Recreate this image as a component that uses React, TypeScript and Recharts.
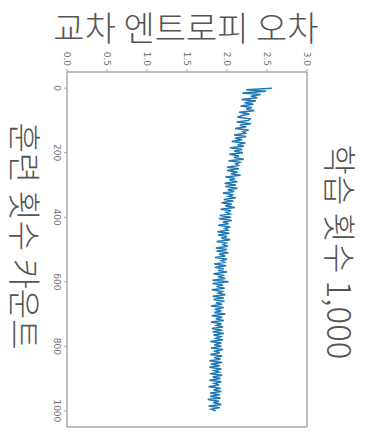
import React from 'react';
import { LineChart, Line, XAxis, YAxis } from 'recharts';

// loss value every 5 iterations, 0..1000
const lossValues: number[] = [
  2.56, 2.24, 2.49, 2.19, 2.42, 2.30, 2.38, 2.18, 2.36, 2.22,
  2.33, 2.17, 2.31, 2.24, 2.34, 2.15, 2.28, 2.19, 2.13, 2.29,
  2.27, 2.12, 2.30, 2.16, 2.24, 2.10, 2.27, 2.20, 2.23, 2.09,
  2.24, 2.10, 2.19, 2.06, 2.23, 2.13, 2.21, 2.04, 2.19, 2.09,
  2.20, 2.03, 2.15, 2.09, 2.21, 2.02, 2.16, 2.11, 2.14, 2.00,
  2.15, 2.00, 2.13, 2.05, 2.17, 1.98, 2.10, 2.03, 2.13, 1.97,
  2.11, 1.98, 2.13, 2.01, 2.09, 1.95, 2.08, 2.02, 2.11, 1.96,
  2.08, 1.93, 2.06, 1.98, 2.10, 1.92, 2.05, 1.99, 2.04, 1.91,
  2.05, 1.90, 2.06, 1.95, 2.02, 1.89, 2.04, 1.97, 2.01, 1.88,
  2.03, 1.89, 2.00, 1.93, 2.04, 1.87, 1.99, 1.95, 2.01, 1.86,
  2.00, 1.87, 2.02, 1.90, 1.98, 1.85, 2.00, 1.93, 1.97, 1.84,
  1.99, 1.85, 1.96, 1.89, 2.00, 1.83, 1.95, 1.90, 1.98, 1.82,
  2.02, 1.82, 1.95, 1.87, 1.97, 1.81, 1.94, 1.89, 1.98, 1.82,
  1.96, 1.83, 1.97, 1.86, 1.94, 1.80, 1.96, 1.85, 1.93, 1.84,
  1.98, 1.81, 1.94, 1.86, 1.96, 1.80, 1.93, 1.87, 1.95, 1.81,
  1.94, 1.82, 1.96, 1.83, 1.92, 1.86, 1.95, 1.79, 1.93, 1.84,
  1.93, 1.80, 1.95, 1.85, 1.91, 1.79, 1.94, 1.84, 1.92, 1.78,
  1.94, 1.80, 1.91, 1.78, 1.93, 1.84, 1.90, 1.79, 1.94, 1.82,
  1.92, 1.78, 1.93, 1.84, 1.90, 1.77, 1.92, 1.83, 1.93, 1.79,
  1.91, 1.79, 1.92, 1.76, 1.90, 1.83, 1.93, 1.77, 1.91, 1.80,
  1.86,
];
const STEP = 5;

const lossTicks = [0, 0.5, 1.0, 1.5, 2.0, 2.5, 3.0];
const iterTicks = [0, 200, 400, 600, 800, 1000];

const TITLE = '교차 엔트로피 오차';
const LEFT_LABEL = '훈련 횟수 카운트';
const RIGHT_LABEL = '학습 횟수 1,000';

const data = lossValues.map((v, i) => ({ iter: i * STEP, loss: v }));

const SPINE = '#a8a8a8';
const TEXT = '#555';
const TICK_TEXT = '#707070';
const KR = '"Noto Sans CJK KR", "Noto Sans", sans-serif';

const TopTick = (props: any) => {
  const { x, payload } = props;
  const y = 66;
  return (
    <text
      x={x}
      y={y}
      transform={`rotate(90 ${x} ${y})`}
      textAnchor="end"
      dominantBaseline="central"
      fontSize={9}
      fontFamily="DejaVu Sans"
      fill={TICK_TEXT}
    >
      {Number(payload.value).toFixed(1)}
    </text>
  );
};

const LeftTick = (props: any) => {
  const { y, payload } = props;
  const x = 57;
  return (
    <text
      x={x}
      y={y}
      transform={`rotate(90 ${x} ${y})`}
      textAnchor="middle"
      dominantBaseline="central"
      fontSize={9}
      fontFamily="DejaVu Sans"
      fill={TICK_TEXT}
    >
      {payload.value}
    </text>
  );
};

const labelStyle: React.CSSProperties = {
  position: 'absolute',
  whiteSpace: 'nowrap',
  fontFamily: KR,
  fontWeight: 300,
  color: TEXT,
  lineHeight: 1,
};

export default function App() {
  return (
    <div style={{ position: 'absolute', left: 0, top: 0, width: 366, height: 432, background: '#fff' }}>
      <LineChart
        layout="vertical"
        width={366}
        height={432}
        data={data}
        margin={{ top: 0, right: 0, bottom: 0, left: 0 }}
      >
        <XAxis
          xAxisId="top"
          type="number"
          orientation="top"
          domain={[0, 3]}
          ticks={lossTicks}
          height={72}
          tickSize={3}
          tick={<TopTick />}
          axisLine={{ stroke: SPINE, strokeWidth: 1.5 }}
          tickLine={{ stroke: SPINE }}
          allowDataOverflow
        />
        <XAxis
          xAxisId="bottom"
          type="number"
          orientation="bottom"
          domain={[0, 3]}
          height={5}
          tick={false}
          tickLine={false}
          axisLine={{ stroke: SPINE, strokeWidth: 1.5 }}
        />
        <YAxis
          yAxisId="left"
          type="number"
          dataKey="iter"
          domain={[-50, 1050]}
          ticks={iterTicks}
          width={67}
          tickSize={3}
          tick={<LeftTick />}
          axisLine={{ stroke: SPINE, strokeWidth: 1.5 }}
          tickLine={{ stroke: SPINE }}
          allowDataOverflow
        />
        <YAxis
          yAxisId="right"
          type="number"
          orientation="right"
          domain={[-50, 1050]}
          width={59}
          tick={false}
          tickLine={false}
          axisLine={{ stroke: SPINE, strokeWidth: 1.5 }}
        />
        <Line
          xAxisId="top"
          yAxisId="left"
          dataKey="loss"
          stroke="#1f77b4"
          strokeWidth={1.5}
          dot={false}
          isAnimationActive={false}
        />
      </LineChart>
      <div style={{ ...labelStyle, left: 186, top: 27, fontSize: 34, transform: 'translate(-50%, -50%)' }}>
        {TITLE}
      </div>
      <div style={{ ...labelStyle, left: 25, top: 236, fontSize: 33, transform: 'translate(-50%, -50%) rotate(90deg)' }}>
        {LEFT_LABEL}
      </div>
      <div style={{ ...labelStyle, left: 340, top: 252, fontSize: 33, transform: 'translate(-50%, -50%) rotate(90deg)' }}>
        {RIGHT_LABEL}
      </div>
    </div>
  );
}
